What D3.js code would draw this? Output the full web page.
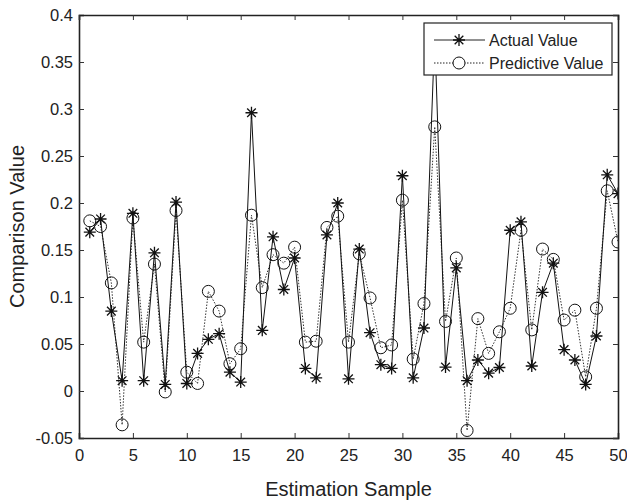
<!DOCTYPE html>
<html lang="en">
  <head>
    <meta charset="UTF-8" />
    <title>Comparison Value</title>
    <style>
      body { margin: 0; background: #fff; }
      text { font-family: "Liberation Sans", Arial, sans-serif; fill: #222; }
    </style>
  </head>
  <body>
    <div id="chart">
      <svg width="627" height="500"></svg>
    </div>
    <script src="https://d3js.org/d3.v7.min.js"></script>
    <script>
      // estimation samples 1..50
      var samples = d3.range(1, 51);

      var actualValues = [
        0.169, 0.183, 0.085, 0.011, 0.189, 0.011, 0.147, 0.007, 0.201, 0.008,
        0.040, 0.055, 0.061, 0.020, 0.0095, 0.296, 0.0645, 0.164, 0.108, 0.1415,
        0.024, 0.014, 0.166, 0.200, 0.013, 0.151, 0.062, 0.028, 0.024, 0.229,
        0.014, 0.067, 0.38, 0.0255, 0.131, 0.011, 0.033, 0.019, 0.025, 0.171,
        0.180, 0.0266, 0.105, 0.136, 0.044, 0.033, 0.007, 0.0585, 0.230, 0.210
      ];

      var predictiveValues = [
        0.181, 0.175, 0.115, -0.036, 0.184, 0.052, 0.135, -0.001, 0.192, 0.020,
        0.008, 0.106, 0.085, 0.029, 0.045, 0.187, 0.110, 0.145, 0.136, 0.153,
        0.052, 0.053, 0.174, 0.186, 0.052, 0.146, 0.099, 0.046, 0.049, 0.203,
        0.034, 0.093, 0.281, 0.074, 0.1415, -0.042, 0.077, 0.040, 0.063, 0.088,
        0.171, 0.065, 0.151, 0.140, 0.0755, 0.086, 0.015, 0.088, 0.213, 0.1585
      ];

      var xTicks = [0, 5, 10, 15, 20, 25, 30, 35, 40, 45, 50];
      var yTicks = [-0.05, 0, 0.05, 0.1, 0.15, 0.2, 0.25, 0.3, 0.35, 0.4];

      var seriesNames = ["Actual Value", "Predictive Value"];

      var svg = d3.select("#chart>svg");
      var margin = { top: 15, right: 9, bottom: 62, left: 79 };
      var width = +svg.attr("width") - margin.left - margin.right;
      var height = +svg.attr("height") - margin.top - margin.bottom;

      svg.append("defs").append("clipPath").attr("id", "plot-clip")
        .append("rect").attr("width", width).attr("height", height);

      var g = svg.append("g")
        .attr("transform", "translate(" + margin.left + "," + margin.top + ")");

      var x = d3.scaleLinear().domain([0, 50]).range([0, width]);
      var y = d3.scaleLinear().domain([-0.05, 0.4]).range([height, 0]);

      // plain hyphen minus like the original
      var fmt = function (d) { return String(+d.toFixed(2)); };

      // axes: ticks point inward on all four sides (box)
      var axBottom = g.append("g")
        .attr("transform", "translate(0," + height + ")")
        .call(d3.axisBottom(x).tickValues(xTicks).tickSize(-5).tickPadding(11).tickFormat(fmt));
      var axLeft = g.append("g")
        .call(d3.axisLeft(y).tickValues(yTicks).tickSize(-5).tickPadding(6).tickFormat(fmt));
      var axTop = g.append("g")
        .call(d3.axisTop(x).tickValues(xTicks).tickSize(-5).tickFormat(""));
      var axRight = g.append("g")
        .attr("transform", "translate(" + width + ",0)")
        .call(d3.axisRight(y).tickValues(yTicks).tickSize(-5).tickFormat(""));

      [axBottom, axLeft, axTop, axRight].forEach(function (a) {
        a.select(".domain").attr("stroke", "#222").attr("stroke-width", 1.6);
        a.selectAll(".tick line").attr("stroke", "#333").attr("stroke-width", 1);
        a.selectAll(".tick text").attr("font-size", 16.5).attr("fill", "#222")
          .attr("font-family", "'Liberation Sans', Arial, sans-serif");
      });

      var plot = g.append("g").attr("clip-path", "url(#plot-clip)");

      var line = d3.line()
        .x(function (d, i) { return x(samples[i]); })
        .y(function (d) { return y(d); });

      plot.append("path")
        .datum(predictiveValues)
        .attr("fill", "none")
        .attr("stroke", "#333")
        .attr("stroke-width", 1)
        .attr("stroke-dasharray", "1.5,1.5")
        .attr("d", line);

      plot.append("path")
        .datum(actualValues)
        .attr("fill", "none")
        .attr("stroke", "#111")
        .attr("stroke-width", 1)
        .attr("d", line);

      function star(sel, r) {
        var k = r * 0.72;
        var d = "M" + (-r) + ",0L" + r + ",0M0," + (-r) + "L0," + r +
          "M" + (-k) + "," + (-k) + "L" + k + "," + k + "M" + (-k) + "," + k + "L" + k + "," + (-k);
        sel.append("path").attr("d", d).attr("stroke", "#111").attr("stroke-width", 1.3).attr("fill", "none");
      }

      plot.selectAll(".pred")
        .data(predictiveValues)
        .enter().append("circle")
        .attr("class", "pred")
        .attr("cx", function (d, i) { return x(samples[i]); })
        .attr("cy", function (d) { return y(d); })
        .attr("r", 6)
        .attr("fill", "none")
        .attr("stroke", "#111")
        .attr("stroke-width", 1);

      plot.selectAll(".act")
        .data(actualValues)
        .enter().append("g")
        .attr("class", "act")
        .attr("transform", function (d, i) { return "translate(" + x(samples[i]) + "," + y(d) + ")"; })
        .each(function () { star(d3.select(this), 6); });

      // legend (opaque, hides the peak at sample 33)
      var legend = g.append("g").attr("transform", "translate(" + (width - 194) + ",8)");
      legend.append("rect")
        .attr("width", 188).attr("height", 52)
        .attr("fill", "#fff").attr("stroke", "#222").attr("stroke-width", 1.2);

      seriesNames.forEach(function (name, i) {
        var row = legend.append("g").attr("transform", "translate(0," + (17 + i * 23) + ")");
        row.append("line")
          .attr("x1", 10).attr("x2", 61)
          .attr("stroke", "#222").attr("stroke-width", 1)
          .attr("stroke-dasharray", i === 1 ? "1.5,1.5" : null);
        if (i === 0) {
          star(row.append("g").attr("transform", "translate(35,0)"), 6);
        } else {
          row.append("circle").attr("cx", 35).attr("r", 6)
            .attr("fill", "#fff").attr("stroke", "#111").attr("stroke-width", 1);
        }
        row.append("text")
          .attr("x", 65).attr("dy", "0.35em")
          .attr("font-size", 16)
          .text(name);
      });

      // axis titles
      svg.append("text")
        .attr("x", margin.left + width / 2)
        .attr("y", 496)
        .attr("text-anchor", "middle")
        .attr("font-size", 20)
        .text("Estimation Sample");

      svg.append("text")
        .attr("transform", "translate(24," + (margin.top + height / 2) + ") rotate(-90)")
        .attr("text-anchor", "middle")
        .attr("font-size", 20)
        .text("Comparison Value");
    </script>
  </body>
</html>
